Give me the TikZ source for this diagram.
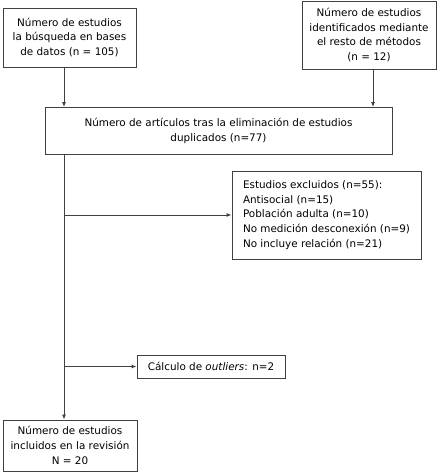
\documentclass[tikz,border=0pt]{standalone}
\usepackage{fontspec}
\setmainfont{DejaVu Sans}
\usetikzlibrary{arrows.meta, positioning}
\definecolor{boxgray}{HTML}{404040}

\begin{document}
\begin{tikzpicture}[x=1pt, y=-1pt,
    box/.style={draw=boxgray, line width=0.9pt, align=center, inner sep=0pt,
      font=\fontsize{10.4}{14.6}\selectfont},
    arr/.style={draw=boxgray, line width=0.9pt, -{Latex[length=5pt,width=4pt]}}]
  \useasboundingbox (0,0) rectangle (443,473);

  % sources
  \draw (69.5,37.5) node[box, minimum width=133pt, minimum height=59pt] (A)
    {Número de estudios\\la búsqueda en bases\\de datos (n = 105)};
  \draw (369,35) node[box, minimum width=134pt, minimum height=68pt] (B)
    {Número de estudios\\identificados mediante\\el resto de métodos\\(n = 12)};

  \draw (218.5,131) node[box, minimum width=347pt, minimum height=47pt] (C)
    {Número de artículos tras la eliminación de estudios\\duplicados (n=77)};

  % exclusions
  \draw (326.5,215) node[box, align=left, minimum width=189pt, minimum height=88pt] (D)
    {Estudios excluidos (n=55):\\Antisocial (n=15)\\Población adulta (n=10)\\No medición desconexión (n=9)\\No incluye relación (n=21)};
  \draw (211,366.5) node[box, minimum width=148pt, minimum height=23pt] (E)
    {Cálculo de \textit{outliers}: n=2};

  \draw (70,445.5) node[box, minimum width=134pt, minimum height=51pt] (F)
    {Número de estudios\\incluidos en la revisión\\N = 20};

  \coordinate (tr) at (64,0);
  \coordinate (tb) at (373,0);

  \draw[arr] (A.south -| tr) -- (C.north -| tr);
  \draw[arr] (B.south -| tb) -- (C.north -| tb);
  \draw[arr] (C.south -| tr) -- (F.north -| tr);
  \draw[arr] (D.west -| tr) -- (D.west);
  \draw[arr] (E.west -| tr) -- (E.west);
\end{tikzpicture}
\end{document}
